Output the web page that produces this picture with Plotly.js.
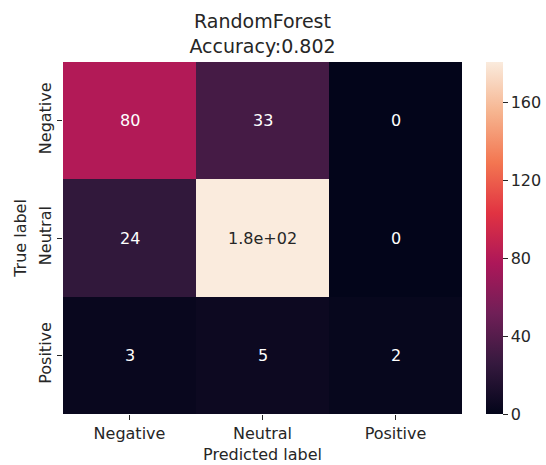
<!DOCTYPE html>
<html>
<head>
<meta charset="utf-8">
<script src="https://cdn.plot.ly/plotly-3.0.1.min.js"></script>
<style>html,body{margin:0;padding:0;background:#fff;}#chart{width:546px;height:465px;}</style>
</head>
<body>
<div id="chart"></div>
<script>
const classes = ["Negative", "Neutral", "Positive"];
const matrix = [
  [80, 33, 0],
  [24, 181, 0],
  [3, 5, 2]
];
const modelName = "RandomForest";
const accuracy = "0.802";
const cbTicks = [0, 40, 80, 120, 160];

// seaborn "rocket" colormap
const rocket = [
  [0.0, "#03051A"],
  [0.143, "#35193E"],
  [0.286, "#701F57"],
  [0.429, "#AD1759"],
  [0.571, "#E13342"],
  [0.714, "#F37651"],
  [0.857, "#F6B48F"],
  [1.0, "#FAEBDD"]
];

function fmtG2(v) {
  if (v === 0) return "0";
  const e = Math.floor(Math.log10(Math.abs(v)));
  if (e < -4 || e >= 2) {
    const m = (v / Math.pow(10, e)).toFixed(1).replace(/\.0$/, "");
    const sign = e < 0 ? "-" : "+";
    const ae = Math.abs(e);
    return m + "e" + sign + (ae < 10 ? "0" + ae : String(ae));
  }
  let s = Number(v).toPrecision(2);
  if (s.indexOf(".") >= 0) s = s.replace(/0+$/, "").replace(/\.$/, "");
  return s;
}

let zmax = 0;
matrix.forEach(r => r.forEach(v => { if (v > zmax) zmax = v; }));

function hexToRgb(h) { return [parseInt(h.substr(1,2),16), parseInt(h.substr(3,2),16), parseInt(h.substr(5,2),16)]; }
function colorAt(t) {
  for (let i = 1; i < rocket.length; i++) {
    if (t <= rocket[i][0]) {
      const a = rocket[i-1], b = rocket[i];
      const f = (t - a[0]) / (b[0] - a[0]);
      const ca = hexToRgb(a[1]), cb = hexToRgb(b[1]);
      return ca.map((c, k) => c + f * (cb[k] - c));
    }
  }
  return hexToRgb(rocket[rocket.length-1][1]);
}
function lum(rgb) {
  const c = rgb.map(x => { x /= 255; return x <= 0.03928 ? x / 12.92 : Math.pow((x + 0.055) / 1.055, 2.4); });
  return 0.2126 * c[0] + 0.7152 * c[1] + 0.0722 * c[2];
}

const annotations = [];
matrix.forEach((row, i) => row.forEach((v, j) => {
  const l = lum(colorAt(v / zmax));
  annotations.push({
    x: classes[j], y: classes[i], xref: "x", yref: "y",
    text: fmtG2(v), showarrow: false,
    font: {family: "DejaVu Sans", size: 16, color: l > 0.408 ? "#262626" : "#ffffff"}
  });
}));

const data = [{
  type: "heatmap",
  x: classes,
  y: classes,
  z: matrix,
  zmin: 0,
  zmax: zmax,
  colorscale: rocket,
  hoverinfo: "none",
  colorbar: {
    x: 1.06, xanchor: "left", xpad: 0,
    y: 0.5, yanchor: "middle", ypad: 0,
    len: 1, lenmode: "fraction",
    thickness: 17, thicknessmode: "pixels",
    outlinewidth: 0,
    tickmode: "array", tickvals: cbTicks, ticktext: cbTicks.map(String),
    ticks: "outside", ticklen: 5, tickwidth: 1, tickcolor: "#262626",
    tickfont: {family: "DejaVu Sans", size: 16, color: "#262626"}
  }
}];

const layout = {
  width: 546, height: 465,
  margin: {l: 63, r: 84, t: 62, b: 51, autoexpand: false},
  paper_bgcolor: "#ffffff", plot_bgcolor: "#ffffff",
  font: {family: "DejaVu Sans", size: 16, color: "#262626"},
  title: {
    text: modelName + "<br>Accuracy:" + accuracy,
    x: 0.5, xref: "paper", xanchor: "center",
    y: 0.94, yref: "container", yanchor: "top",
    font: {family: "DejaVu Sans", size: 19, color: "#262626"}
  },
  xaxis: {
    type: "category",
    title: {text: "Predicted label", font: {family: "DejaVu Sans", size: 16, color: "#262626"}, standoff: 6},
    ticks: "outside", ticklen: 5, tickwidth: 1, tickcolor: "#262626",
    tickfont: {family: "DejaVu Sans", size: 16, color: "#262626"},
    showgrid: false, zeroline: false, showline: false
  },
  yaxis: {
    type: "category",
    autorange: "reversed",
    title: {text: "True label", font: {family: "DejaVu Sans", size: 16, color: "#262626"}, standoff: 4},
    ticks: "outside", ticklen: 5, tickwidth: 1, tickcolor: "#262626",
    tickangle: -90,
    tickfont: {family: "DejaVu Sans", size: 16, color: "#262626"},
    showgrid: false, zeroline: false, showline: false
  },
  annotations: annotations
};

Plotly.newPlot("chart", data, layout, {displayModeBar: false, staticPlot: true});
</script>
</body>
</html>
